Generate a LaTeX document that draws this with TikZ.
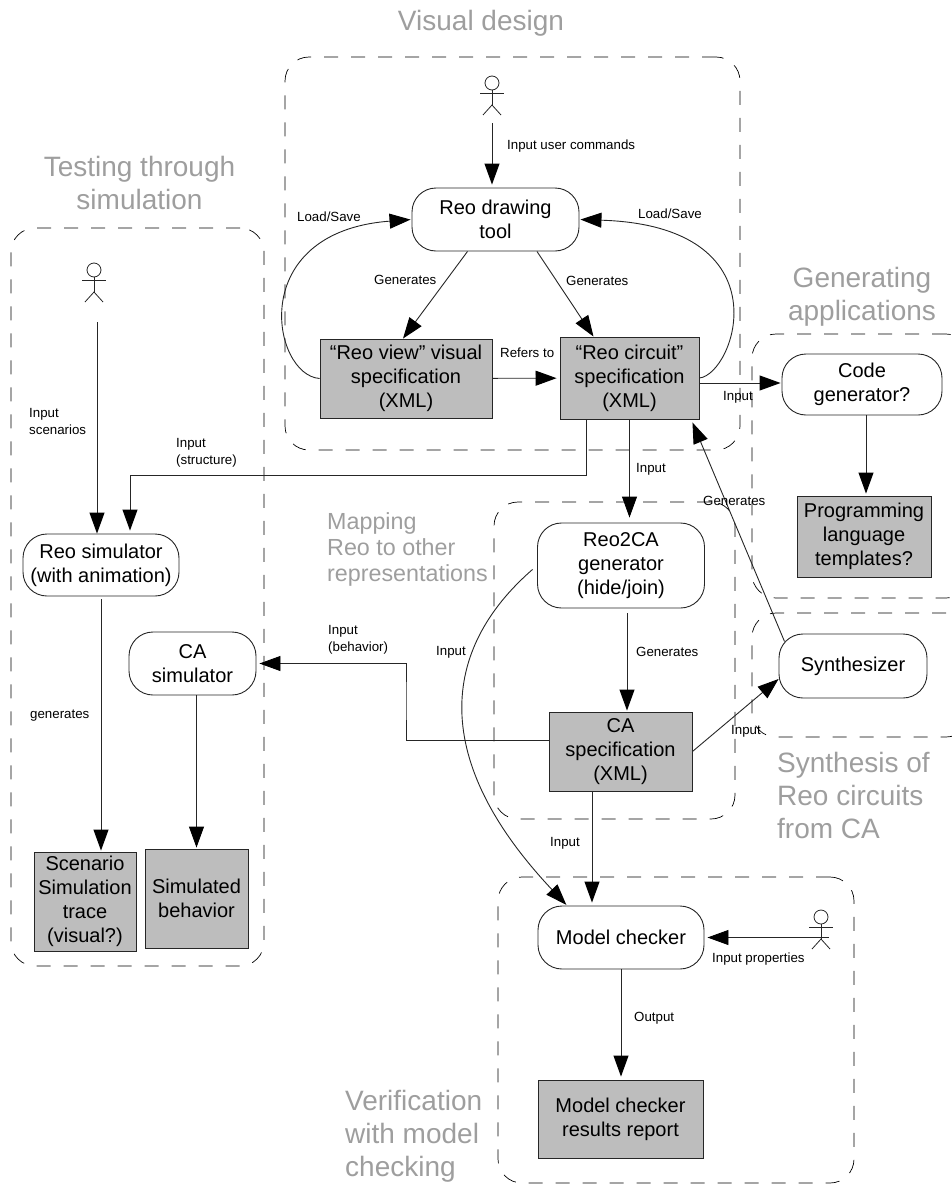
\documentclass[tikz,border=0pt]{standalone}
\usepackage{fontspec}
\setmainfont{Liberation Sans}
\usetikzlibrary{arrows.meta}

\begin{document}
\begin{tikzpicture}[x=1pt,y=-1pt]
\tikzstyle{proc}=[rectangle,draw=black!85,rounded corners=24pt,line width=0.9pt,inner sep=0pt,align=center,font=\fontsize{20}{24}\selectfont]
\tikzstyle{doc}=[rectangle,draw=black!85,fill=black!26,line width=0.9pt,inner sep=0pt,align=center,font=\fontsize{20}{24}\selectfont]
\tikzstyle{groupbox}=[rectangle,draw=black,rounded corners=24pt,line width=0.7pt,dash pattern=on 14pt off 13pt]
\tikzstyle{conn}=[draw=black!85,line width=0.9pt,-{Triangle[length=21pt,width=15pt,color=black]},shorten >=3pt]
\tikzstyle{small}=[anchor=west,inner sep=0pt,align=left,font=\fontsize{13.3}{17}\selectfont]
\tikzstyle{phase}=[text=black!38,inner sep=0pt,font=\fontsize{28}{33}\selectfont]
\tikzstyle{actorbox}=[rectangle,minimum width=24pt,minimum height=39pt,inner sep=0pt]
\useasboundingbox (0,0) rectangle (952,1191);
\node [groupbox,minimum width=455pt,minimum height=393pt] (visualgroup) at (512.5,253.5) {};
\node [groupbox,minimum width=253pt,minimum height=738pt] (testgroup) at (137.5,597) {};
\node [groupbox,minimum width=218pt,minimum height=264pt] (codegroup) at (861,466) {};
\node [groupbox,minimum width=218pt,minimum height=124pt] (synthgroup) at (861,675) {};
\node [groupbox,minimum width=241pt,minimum height=317pt] (mapgroup) at (614.5,660.5) {};
\node [groupbox,minimum width=356pt,minimum height=306pt] (checkgroup) at (676,1030) {};
\node [proc,minimum width=167pt,minimum height=63pt] (tool) at (495.5,219.5) {Reo drawing\\tool};
\node [doc,minimum width=172pt,minimum height=79pt] (view) at (406,378.5) {``Reo view'' visual\\specification\\(XML)};
\node [doc,minimum width=139pt,minimum height=82pt] (circuit) at (629.5,378) {``Reo circuit''\\specification\\(XML)};
\node [proc,minimum width=160pt,minimum height=61pt] (codegen) at (862,384.5) {Code\\generator?};
\node [doc,minimum width=134pt,minimum height=81pt] (templates) at (864,536.5) {Programming\\language\\templates?};
\node [proc,minimum width=156pt,minimum height=62pt] (reosim) at (101,565) {Reo simulator\\(with animation)};
\node [proc,minimum width=127pt,minimum height=63pt] (casim) at (192.5,663.5) {CA\\simulator};
\node [doc,minimum width=102pt,minimum height=99pt] (trace) at (85,901.5) {Scenario\\Simulation\\trace\\(visual?)};
\node [doc,minimum width=103pt,minimum height=99pt] (behavior) at (196.5,898.5) {Simulated\\behavior};
\node [proc,minimum width=167pt,minimum height=85pt] (reotoca) at (621,565.5) {Reo2CA\\generator\\(hide/join)};
\node [doc,minimum width=143pt,minimum height=79pt] (caspec) at (620.5,751.5) {CA\\specification\\(XML)};
\node [proc,minimum width=148pt,minimum height=64pt] (synth) at (853,666) {Synthesizer};
\node [proc,minimum width=166pt,minimum height=63pt] (checker) at (621,937.5) {Model checker};
\node [doc,minimum width=165pt,minimum height=78pt] (results) at (620.5,1119) {Model checker\\results report};
\foreach \name/\px/\py in {designer/492/83,tester/94/270,verifier/821/917}{
\node [actorbox] (\name) at (\px,\py+12.5) {};
\draw [black!85,line width=0.8pt] (\px,\py) circle (7pt);
\draw [black!85,line width=0.8pt] (\px-12,\py+10) -- (\px+12,\py+10);
\draw [black!85,line width=0.8pt] (\px,\py+7) -- (\px,\py+22);
\draw [black!85,line width=0.8pt] (\px-9,\py+32) -- (\px,\py+22) -- (\px+9,\py+32);
}
\coordinate (turnstruct) at (586.5,475);
\coordinate (turnbeh) at (406,700);
\draw [conn,shorten <=8pt] (designer.south) -- (designer.south |- tool.north);
\draw [conn,shorten >=1pt] (view.west) .. controls (272,375) and (245,232) .. (tool.west);
\draw [conn,shorten >=1pt] (circuit.east) .. controls (735,374) and (786,226) .. (tool.east);
\draw [conn,shorten >=0pt] ([xshift=-28pt]tool.south) -- ([xshift=-3pt]view.north);
\draw [conn,shorten >=0pt] ([xshift=41.5pt]tool.south) -- ([xshift=-36pt]circuit.north);
\draw [conn] (view) -- (circuit);
\draw [conn,shorten >=1pt] ([yshift=-5pt]circuit.east) -- ([yshift=1.5pt]codegen.west);
\draw [conn] (turnstruct |- circuit.south) -- (turnstruct) -| ([xshift=29pt]reosim.north);
\draw [conn,shorten >=5pt] (circuit.south) -- (circuit.south |- reotoca.north);
\draw [conn,shorten <=5pt,shorten >=1pt] ([xshift=6pt]reotoca.south) -- ([xshift=6pt]reotoca.south |- caspec.north);
\draw [conn] ([yshift=11.5pt]caspec.west) -| (turnbeh) |- (casim.east);
\draw [conn,shorten >=0pt] (caspec.east) -- ([yshift=-13pt]synth.west);
\draw [conn,shorten >=0pt] ([shift={(6pt,-8pt)}]synth.north west) -- ([shift={(-7pt,-3pt)}]circuit.south east);
\draw [conn,shorten <=6pt,shorten >=1pt] (reotoca.west) .. controls (440,650) and (430,760) .. ([xshift=-54pt]checker.north);
\draw [conn] ([xshift=-28.5pt]caspec.south) -- ([xshift=-28.5pt]caspec.south |- checker.north);
\draw [conn] ([xshift=8pt]verifier.center |- checker.east) -- (checker.east);
\draw [conn] (checker.south) -- (checker.south |- results.north);
\draw [conn,shorten <=20pt,shorten >=0pt] ([xshift=3pt]tester.south) -- ([xshift=3pt]tester.south |- reosim.north);
\draw [conn,shorten <=3pt,shorten >=1pt] (reosim.south) -- (reosim.south |- trace.north);
\draw [conn,shorten >=1pt] (behavior.north |- casim.south) -- (behavior.north);
\draw [conn,shorten >=2pt] ([xshift=2pt]templates.north |- codegen.south) -- ([xshift=2pt]templates.north);
\node [small] (inuser) at (507,146) {Input user commands};
\node [small] (loadleft) at (297,217) {Load/Save};
\node [small] (loadright) at (638,214) {Load/Save};
\node [small] (genview) at (374,280) {Generates};
\node [small] (gencircuit) at (566,281) {Generates};
\node [small] (refers) at (500,353) {Refers to};
\node [small] (incode) at (723,397) {Input};
\node [small] (inreoca) at (636,469) {Input};
\node [small] (gensynth) at (703,501) {Generates};
\node [small] (genca) at (636,652) {Generates};
\node [small] (incheckcurve) at (436,652) {Input};
\node [small] (insynth) at (731,731) {Input};
\node [small] (incheck) at (550,843) {Input};
\node [small] (output) at (634,1018) {Output};
\node [small] (inprops) at (712,959) {Input properties};
\node [small] (inbeh) at (328,640) {Input\\(behavior)};
\node [small] (instruct) at (176,453) {Input\\(structure)};
\node [small] (inscen) at (29,421.5) {Input\\scenarios};
\node [small] (simgen) at (30,716) {generates};
\node [phase] (visualtitle) at (481,23) {Visual design};
\node [phase,align=center] (testtitle) at (139.5,183) {Testing through\\simulation};
\node [phase,align=center] (codetitle) at (862,297) {Generating\\applications};
\node [phase,anchor=west,align=left,font=\fontsize{23.3}{26}\selectfont] (maptitle) at (327,549) {Mapping\\Reo to other\\representations};
\node [phase,anchor=west,align=left] (synthtitle) at (777,795) {Synthesis of\\Reo circuits\\from CA};
\node [phase,anchor=west,align=left] (checktitle) at (345,1136) {Verification\\with model\\checking};
\end{tikzpicture}
\end{document}
